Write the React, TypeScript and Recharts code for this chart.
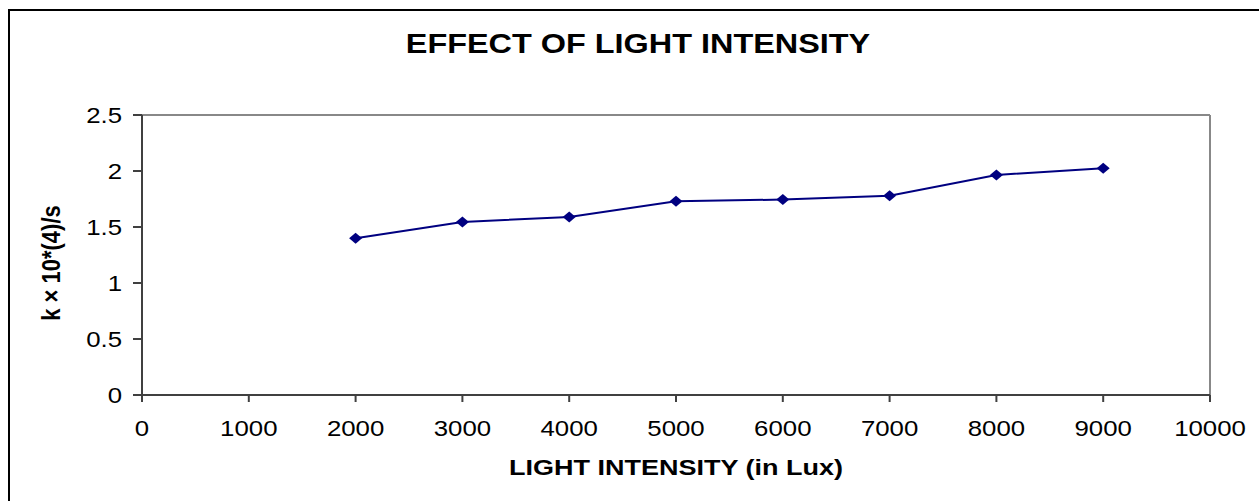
import { LineChart, Line, XAxis, YAxis, ReferenceLine, Label } from "recharts";

// light intensity (lux) vs rate constant k × 10^4 /s
const lightLux = [2000, 3000, 4000, 5000, 6000, 7000, 8000, 9000];
const rateK = [1.4, 1.545, 1.59, 1.73, 1.745, 1.78, 1.965, 2.025];
const xTicks = [0, 1000, 2000, 3000, 4000, 5000, 6000, 7000, 8000, 9000, 10000];
const yTicks = [0, 0.5, 1, 1.5, 2, 2.5];

const data = lightLux.map((lux, i) => ({ lux, k: rateK[i] }));

const FONT = "'Liberation Sans', Arial, sans-serif";
const SX = 1.2; // the source picture is stretched sideways
const NAVY = "#000080";
const AXIS = "#404040";

const XTick = ({ x, y, payload }: any) => (
  <text
    transform={`translate(${x},${y + 32}) scale(${SX},1)`}
    textAnchor="middle"
    fontSize={21.5}
    fontFamily={FONT}
    fill="#000"
  >
    {payload.value}
  </text>
);

const YTick = ({ x, y, payload }: any) => (
  <text
    transform={`translate(${x - 9},${y + 7.5}) scale(${SX},1)`}
    textAnchor="end"
    fontSize={21.5}
    fontFamily={FONT}
    fill="#000"
  >
    {payload.value}
  </text>
);

const Diamond = ({ cx, cy }: any) => (
  <polygon
    points={`${cx - 6.5},${cy} ${cx},${cy - 5.5} ${cx + 6.5},${cy} ${cx},${cy + 5.5}`}
    fill={NAVY}
  />
);

export default function App() {
  return (
    <div
      style={{
        position: "absolute",
        left: 8,
        top: 9,
        width: 1251,
        height: 492,
        boxSizing: "border-box",
        borderLeft: "2px solid #000",
        borderTop: "2px solid #000",
        background: "#fff",
      }}
    >
      <div
        style={{
          position: "absolute",
          left: 0,
          top: 20,
          width: 1256,
          textAlign: "center",
          fontFamily: FONT,
          fontWeight: 700,
          fontSize: 27,
          lineHeight: "27px",
          transform: `scaleX(${SX})`,
        }}
      >
        EFFECT OF LIGHT INTENSITY
      </div>
      <LineChart
        width={1249}
        height={490}
        data={data}
        margin={{ top: 104, right: 49, left: 0, bottom: 66 }}
      >
        <XAxis
          dataKey="lux"
          type="number"
          domain={[0, 10000]}
          ticks={xTicks}
          interval={0}
          height={40}
          tick={<XTick />}
          tickSize={7}
          stroke={AXIS}
          strokeWidth={2}
        >
          <Label
            content={({ viewBox }: any) => (
              <text
                transform={`translate(${viewBox.x + viewBox.width / 2},${viewBox.y + 80}) scale(${SX},1)`}
                textAnchor="middle"
                fontSize={22.5}
                fontWeight={700}
                fontFamily={FONT}
                fill="#000"
              >
                LIGHT INTENSITY (in Lux)
              </text>
            )}
          />
        </XAxis>
        <YAxis
          type="number"
          domain={[0, 2.5]}
          ticks={yTicks}
          interval={0}
          width={132}
          tick={<YTick />}
          tickSize={9}
          stroke={AXIS}
          strokeWidth={2}
        >
          <Label
            content={({ viewBox }: any) => (
              <text
                transform={`translate(50,${viewBox.y + viewBox.height / 2 + 8}) scale(${SX},1) rotate(-90)`}
                textAnchor="middle"
                fontSize={22}
                fontWeight={700}
                fontFamily={FONT}
                fill="#000"
              >
                k × 10*(4)/s
              </text>
            )}
          />
        </YAxis>
        <ReferenceLine y={2.5} stroke="#888" strokeWidth={2} />
        <ReferenceLine x={10000} stroke="#888" strokeWidth={2} />
        <Line
          dataKey="k"
          stroke={NAVY}
          strokeWidth={2}
          dot={<Diamond />}
          activeDot={false}
          isAnimationActive={false}
        />
      </LineChart>
    </div>
  );
}
